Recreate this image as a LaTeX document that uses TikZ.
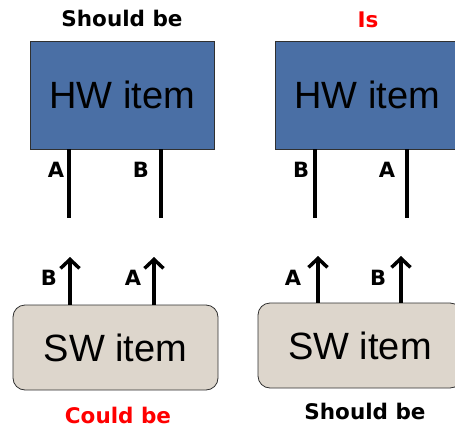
\documentclass[tikz,border=0pt]{standalone}
\usepackage{fontspec}
\setmainfont{Liberation Sans}
\newfontfamily\heavyfont{DejaVu Sans}[BoldFont={DejaVu Sans Bold}]
\usepackage{xcolor}
\usetikzlibrary{arrows.meta}

\definecolor{hwblue}{HTML}{4A6FA5}
\definecolor{swbeige}{HTML}{DDD6CC}
\definecolor{boxline}{HTML}{303030}

\begin{document}
\begin{tikzpicture}[x=1pt,y=-1pt,
  hwbox/.style={draw=boxline,line width=0.8pt,fill=hwblue,minimum width=184pt,minimum height=108pt,inner sep=0pt,font=\fontsize{38}{40}\selectfont},
  swbox/.style={draw=boxline,line width=0.8pt,fill=swbeige,rounded corners=12pt,minimum height=85pt,inner sep=0pt,font=\fontsize{38}{40}\selectfont},
  pin/.style={line width=4pt},
  arr/.style={line width=4pt,-{Straight Barb[length=9pt,width=19pt,line width=3.5pt]}},
  lbl/.style={font=\heavyfont\bfseries\fontsize{21}{23}\selectfont,inner sep=0pt},
  title/.style={font=\heavyfont\bfseries\fontsize{21.5}{23}\selectfont,inner sep=0pt}]
  \useasboundingbox (0,0) rectangle (455,428);
  % hardware items
  \node[hwbox] (hwl) at (122,95) {HW item};
  \node[hwbox] (hwr) at (367,95) {HW item};
  \node[title] (tl) at (122,18) {Should be};
  \node[title,text=red] (tr) at (368,20) {Is};
  % pins
  \coordinate (hwlA) at (69,218);
  \coordinate (hwlB) at (161,218);
  \coordinate (hwrB) at (315,218);
  \coordinate (hwrA) at (407,218);
  \draw[pin] (hwlA |- hwl.south) -- (hwlA);
  \draw[pin] (hwlB |- hwl.south) -- (hwlB);
  \draw[pin] (hwrB |- hwr.south) -- (hwrB);
  \draw[pin] (hwrA |- hwr.south) -- (hwrA);
  \node[lbl] (lA1) at (56,170) {A};
  \node[lbl] (lB1) at (141,170) {B};
  \node[lbl] (lB2) at (301,170) {B};
  \node[lbl] (lA2) at (387,170) {A};
  % software items
  \node[swbox,minimum width=205pt] (swl) at (115.5,347.5) {SW item};
  \node[swbox,minimum width=204pt] (swr) at (360,345.5) {SW item};
  \coordinate (swlB) at (70,257);
  \coordinate (swlA) at (154,257);
  \coordinate (swrA) at (318,256);
  \coordinate (swrB) at (401,256);
  \draw[arr] (swlB |- swl.north) -- (swlB);
  \draw[arr] (swlA |- swl.north) -- (swlA);
  \draw[arr] (swrA |- swr.north) -- (swrA);
  \draw[arr] (swrB |- swr.north) -- (swrB);
  \node[lbl] (lB3) at (49,278) {B};
  \node[lbl] (lA3) at (133,278) {A};
  \node[lbl] (lA4) at (293,278) {A};
  \node[lbl] (lB4) at (378,278) {B};
  \node[title,text=red] (bl) at (118,415) {Could be};
  \node[title] (br) at (365,411) {Should be};
\end{tikzpicture}
\end{document}
